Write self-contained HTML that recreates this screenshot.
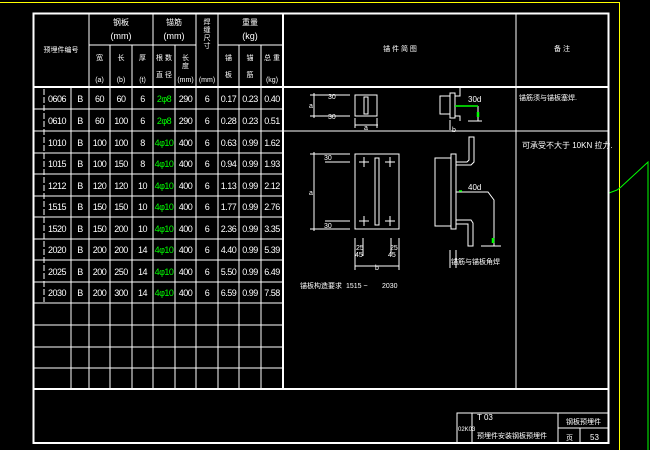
<!DOCTYPE html>
<html><head><meta charset="utf-8"><style>
html,body{margin:0;padding:0;background:#000;}
svg{display:block;}
text{font-family:"Liberation Sans","Noto Sans CJK SC",sans-serif;fill:#fff;}
</style></head><body>
<svg width="650" height="450" viewBox="0 0 650 450" xmlns="http://www.w3.org/2000/svg">
<rect width="650" height="450" fill="#000"/>
<!-- yellow frame -->
<polyline points="0,2.5 619.5,2.5 619.5,450" fill="none" stroke="#ff0" stroke-width="1"/>
<!-- green line -->
<polyline points="609,193 617,190 621,187 648,162 648,450" fill="none" stroke="#0f0" stroke-width="1"/>
<!-- main border -->
<rect x="33.5" y="13.5" width="575" height="429.5" fill="none" stroke="#fff" stroke-width="2"/>
<g stroke="#fff" stroke-width="1" fill="none">
<!-- table header lines -->
<line x1="33" y1="87" x2="609" y2="87" stroke-width="2"/>
<line x1="33" y1="389" x2="609" y2="389" stroke-width="2"/>
<line x1="89" y1="45" x2="153" y2="45"/>
<line x1="153" y1="45" x2="196" y2="45"/>
<line x1="218" y1="45" x2="283" y2="45"/>
<!-- verticals full -->
<line x1="89" y1="13" x2="89" y2="389"/>
<line x1="153" y1="13" x2="153" y2="389"/>
<line x1="196" y1="13" x2="196" y2="389"/>
<line x1="218" y1="13" x2="218" y2="389"/>
<line x1="283" y1="13" x2="283" y2="389" stroke-width="2"/>
<line x1="516" y1="13" x2="516" y2="389"/>
<!-- sub verticals -->
<line x1="110" y1="45" x2="110" y2="389"/>
<line x1="132" y1="45" x2="132" y2="389"/>
<line x1="175" y1="45" x2="175" y2="389"/>
<line x1="239" y1="45" x2="239" y2="389"/>
<line x1="261" y1="45" x2="261" y2="389"/>
<line x1="71" y1="87" x2="71" y2="389"/>
<line x1="44" y1="89" x2="44" y2="302" stroke-dasharray="6,2"/>
<!-- row lines -->
<line x1="33" y1="109" x2="283" y2="109"/>
<line x1="33" y1="131" x2="283" y2="131"/>
<line x1="33" y1="153" x2="283" y2="153"/>
<line x1="33" y1="174" x2="283" y2="174"/>
<line x1="33" y1="196" x2="283" y2="196"/>
<line x1="33" y1="217" x2="283" y2="217"/>
<line x1="33" y1="239" x2="283" y2="239"/>
<line x1="33" y1="260" x2="283" y2="260"/>
<line x1="33" y1="282" x2="283" y2="282"/>
<line x1="33" y1="303" x2="283" y2="303"/>
<line x1="33" y1="325" x2="283" y2="325"/>
<line x1="33" y1="347" x2="283" y2="347"/>
<line x1="33" y1="368" x2="283" y2="368"/>
<!-- right section -->
<line x1="283" y1="131" x2="609" y2="131"/>
<!-- title block -->
<rect x="457" y="413" width="152" height="30"/>
<line x1="472" y1="413" x2="472" y2="443"/>
<line x1="558" y1="413" x2="558" y2="443"/>
<line x1="558" y1="428" x2="609" y2="428"/>
<line x1="580" y1="428" x2="580" y2="443"/>

<!-- drawing 1 -->
<line x1="310" y1="95" x2="350" y2="95"/>
<line x1="310" y1="116" x2="350" y2="116"/>
<line x1="314" y1="93" x2="314" y2="118"/>
<rect x="355" y="95" width="22" height="21"/>
<rect x="364" y="97" width="4" height="17"/>
<line x1="355" y1="118" x2="355" y2="128"/>
<line x1="377" y1="118" x2="377" y2="128"/>
<line x1="355" y1="125" x2="378" y2="125"/>
<rect x="440" y="96" width="10" height="18"/>
<rect x="450" y="93" width="5" height="25"/>
<polyline points="455,96 460,96 460,88"/>
<polyline points="455,116 460,116 460,121"/>
<line x1="478" y1="106" x2="478" y2="121"/>
<line x1="468" y1="121" x2="482" y2="121"/>
<line x1="450" y1="120" x2="450" y2="130"/>
<!-- drawing 2 -->
<line x1="310" y1="154" x2="350" y2="154"/>
<line x1="310" y1="229" x2="350" y2="229"/>
<line x1="314" y1="152" x2="314" y2="231"/>
<line x1="325" y1="162" x2="350" y2="162"/>
<line x1="325" y1="221" x2="350" y2="221"/>
<rect x="355" y="154" width="44" height="75"/>
<rect x="375" y="158" width="4" height="67"/>
<g>
<line x1="359" y1="162" x2="369" y2="162"/><line x1="364" y1="157" x2="364" y2="167"/>
<line x1="385" y1="162" x2="395" y2="162"/><line x1="390" y1="157" x2="390" y2="167"/>
<line x1="359" y1="221" x2="369" y2="221"/><line x1="364" y1="216" x2="364" y2="226"/>
<line x1="385" y1="221" x2="395" y2="221"/><line x1="390" y1="216" x2="390" y2="226"/>
</g>
<line x1="355" y1="238" x2="355" y2="270"/>
<line x1="363" y1="238" x2="363" y2="256"/>
<line x1="391" y1="238" x2="391" y2="256"/>
<line x1="399" y1="238" x2="399" y2="270"/>
<line x1="355" y1="266" x2="399" y2="266"/>
<rect x="435" y="158" width="16" height="68"/>
<rect x="451" y="154" width="5" height="75"/>
<polyline points="456,162 467,162 469,160 469,137 474,137 474,162 471,165 456,165"/>
<polyline points="456,220 471,220 473,223 473,246 468,246 468,224 456,224"/>
<polyline points="456,192 488,192 494,200 494,246"/>
<line x1="481" y1="246" x2="501" y2="246"/>
<line x1="450" y1="250" x2="450" y2="268"/>
<line x1="456" y1="250" x2="456" y2="268"/>
</g>
<g stroke="#0f0" stroke-width="1.5">
<line x1="455" y1="106" x2="478" y2="106"/>
<line x1="478" y1="112" x2="478" y2="117" stroke-width="2.5"/>
<line x1="459" y1="191" x2="462" y2="191"/>
<line x1="493" y1="238" x2="493" y2="243" stroke-width="2.5"/>
</g>

<!-- header text -->
<g font-size="9" text-anchor="middle">
<text x="61" y="52" font-size="7">预埋件编号</text>
<text x="121" y="25" font-size="8">钢板</text>
<text x="121" y="39">(mm)</text>
<text x="174" y="25" font-size="8">锚筋</text>
<text x="174" y="39">(mm)</text>
<text x="250" y="25" font-size="8">重量</text>
<text x="250" y="39">(kg)</text>
<text x="207" y="24" font-size="7">焊</text>
<text x="207" y="32" font-size="7">缝</text>
<text x="207" y="40" font-size="7">尺</text>
<text x="207" y="48" font-size="7">寸</text>
<text x="207" y="82" font-size="7">(mm)</text>
<g font-size="7">
<text x="99.5" y="60">宽</text><text x="121" y="60">长</text><text x="142.5" y="60">厚</text>
<text x="99.5" y="82">(a)</text><text x="121" y="82">(b)</text><text x="142.5" y="82">(t)</text>
<text x="164" y="60">根 数</text><text x="164" y="77">直 径</text>
<text x="185.5" y="60">长</text><text x="185.5" y="68">度</text><text x="185.5" y="82">(mm)</text>
<text x="228.5" y="60">锚</text><text x="228.5" y="77">板</text>
<text x="250" y="60">锚</text><text x="250" y="77">筋</text>
<text x="272" y="60">总 重</text><text x="272" y="82">(kg)</text>
</g>
<text x="400" y="51" font-size="7">锚 件 简 图</text>
<text x="562" y="51" font-size="7">备 注</text>
</g>

<!-- data -->
<g font-size="9" text-anchor="middle" style="letter-spacing:-0.5px">
<g id="r"></g>
<text y="102"><tspan x="57">0606</tspan><tspan x="80">B</tspan><tspan x="99.5">60</tspan><tspan x="121">60</tspan><tspan x="142.5">6</tspan><tspan x="164" fill="#0f0">2φ8</tspan><tspan x="185.5">290</tspan><tspan x="207">6</tspan><tspan x="228.5">0.17</tspan><tspan x="250">0.23</tspan><tspan x="272">0.40</tspan></text>
<text y="124"><tspan x="57">0610</tspan><tspan x="80">B</tspan><tspan x="99.5">60</tspan><tspan x="121">100</tspan><tspan x="142.5">6</tspan><tspan x="164" fill="#0f0">2φ8</tspan><tspan x="185.5">290</tspan><tspan x="207">6</tspan><tspan x="228.5">0.28</tspan><tspan x="250">0.23</tspan><tspan x="272">0.51</tspan></text>
<text y="146"><tspan x="57">1010</tspan><tspan x="80">B</tspan><tspan x="99.5">100</tspan><tspan x="121">100</tspan><tspan x="142.5">8</tspan><tspan x="164" fill="#0f0">4φ10</tspan><tspan x="185.5">400</tspan><tspan x="207">6</tspan><tspan x="228.5">0.63</tspan><tspan x="250">0.99</tspan><tspan x="272">1.62</tspan></text>
<text y="167"><tspan x="57">1015</tspan><tspan x="80">B</tspan><tspan x="99.5">100</tspan><tspan x="121">150</tspan><tspan x="142.5">8</tspan><tspan x="164" fill="#0f0">4φ10</tspan><tspan x="185.5">400</tspan><tspan x="207">6</tspan><tspan x="228.5">0.94</tspan><tspan x="250">0.99</tspan><tspan x="272">1.93</tspan></text>
<text y="189"><tspan x="57">1212</tspan><tspan x="80">B</tspan><tspan x="99.5">120</tspan><tspan x="121">120</tspan><tspan x="142.5">10</tspan><tspan x="164" fill="#0f0">4φ10</tspan><tspan x="185.5">400</tspan><tspan x="207">6</tspan><tspan x="228.5">1.13</tspan><tspan x="250">0.99</tspan><tspan x="272">2.12</tspan></text>
<text y="210"><tspan x="57">1515</tspan><tspan x="80">B</tspan><tspan x="99.5">150</tspan><tspan x="121">150</tspan><tspan x="142.5">10</tspan><tspan x="164" fill="#0f0">4φ10</tspan><tspan x="185.5">400</tspan><tspan x="207">6</tspan><tspan x="228.5">1.77</tspan><tspan x="250">0.99</tspan><tspan x="272">2.76</tspan></text>
<text y="232"><tspan x="57">1520</tspan><tspan x="80">B</tspan><tspan x="99.5">150</tspan><tspan x="121">200</tspan><tspan x="142.5">10</tspan><tspan x="164" fill="#0f0">4φ10</tspan><tspan x="185.5">400</tspan><tspan x="207">6</tspan><tspan x="228.5">2.36</tspan><tspan x="250">0.99</tspan><tspan x="272">3.35</tspan></text>
<text y="253"><tspan x="57">2020</tspan><tspan x="80">B</tspan><tspan x="99.5">200</tspan><tspan x="121">200</tspan><tspan x="142.5">14</tspan><tspan x="164" fill="#0f0">4φ10</tspan><tspan x="185.5">400</tspan><tspan x="207">6</tspan><tspan x="228.5">4.40</tspan><tspan x="250">0.99</tspan><tspan x="272">5.39</tspan></text>
<text y="275"><tspan x="57">2025</tspan><tspan x="80">B</tspan><tspan x="99.5">200</tspan><tspan x="121">250</tspan><tspan x="142.5">14</tspan><tspan x="164" fill="#0f0">4φ10</tspan><tspan x="185.5">400</tspan><tspan x="207">6</tspan><tspan x="228.5">5.50</tspan><tspan x="250">0.99</tspan><tspan x="272">6.49</tspan></text>
<text y="296"><tspan x="57">2030</tspan><tspan x="80">B</tspan><tspan x="99.5">200</tspan><tspan x="121">300</tspan><tspan x="142.5">14</tspan><tspan x="164" fill="#0f0">4φ10</tspan><tspan x="185.5">400</tspan><tspan x="207">6</tspan><tspan x="228.5">6.59</tspan><tspan x="250">0.99</tspan><tspan x="272">7.58</tspan></text>
</g>

<!-- drawing labels -->
<g font-size="7">
<text x="328" y="99">30</text><text x="328" y="119">30</text>
<text x="309" y="108">a</text><text x="364" y="130">a</text>
<text x="468" y="102" font-size="8">30d</text>
<text x="452" y="132">b</text>
<text x="324" y="160">30</text><text x="324" y="228">30</text>
<text x="309" y="195">a</text>
<text x="356" y="250">25</text><text x="355" y="257">45</text>
<text x="390" y="250">25</text><text x="388" y="257">45</text>
<text x="375" y="270">b</text>
<text x="468" y="190" font-size="8">40d</text>
<text x="451" y="264">锚筋与锚板角焊</text>
<text x="300" y="288">锚板构造要求</text>
<text x="346" y="288">1515 ~</text>
<text x="382" y="288">2030</text>
<text x="519" y="100">锚筋须与锚板塞焊.</text>
<text x="522" y="148" font-size="8">可承受不大于 10KN 拉力.</text>
<text x="477" y="420" font-size="8">T 03</text>
<text x="458" y="431" font-size="6">02K03</text>
<text x="477" y="438">预埋件安装钢板预埋件</text>
<text x="566" y="424">钢板预埋件</text>
<text x="566" y="440">页</text>
<text x="590" y="440" font-size="8">53</text>
</g>
</svg>
</body></html>
